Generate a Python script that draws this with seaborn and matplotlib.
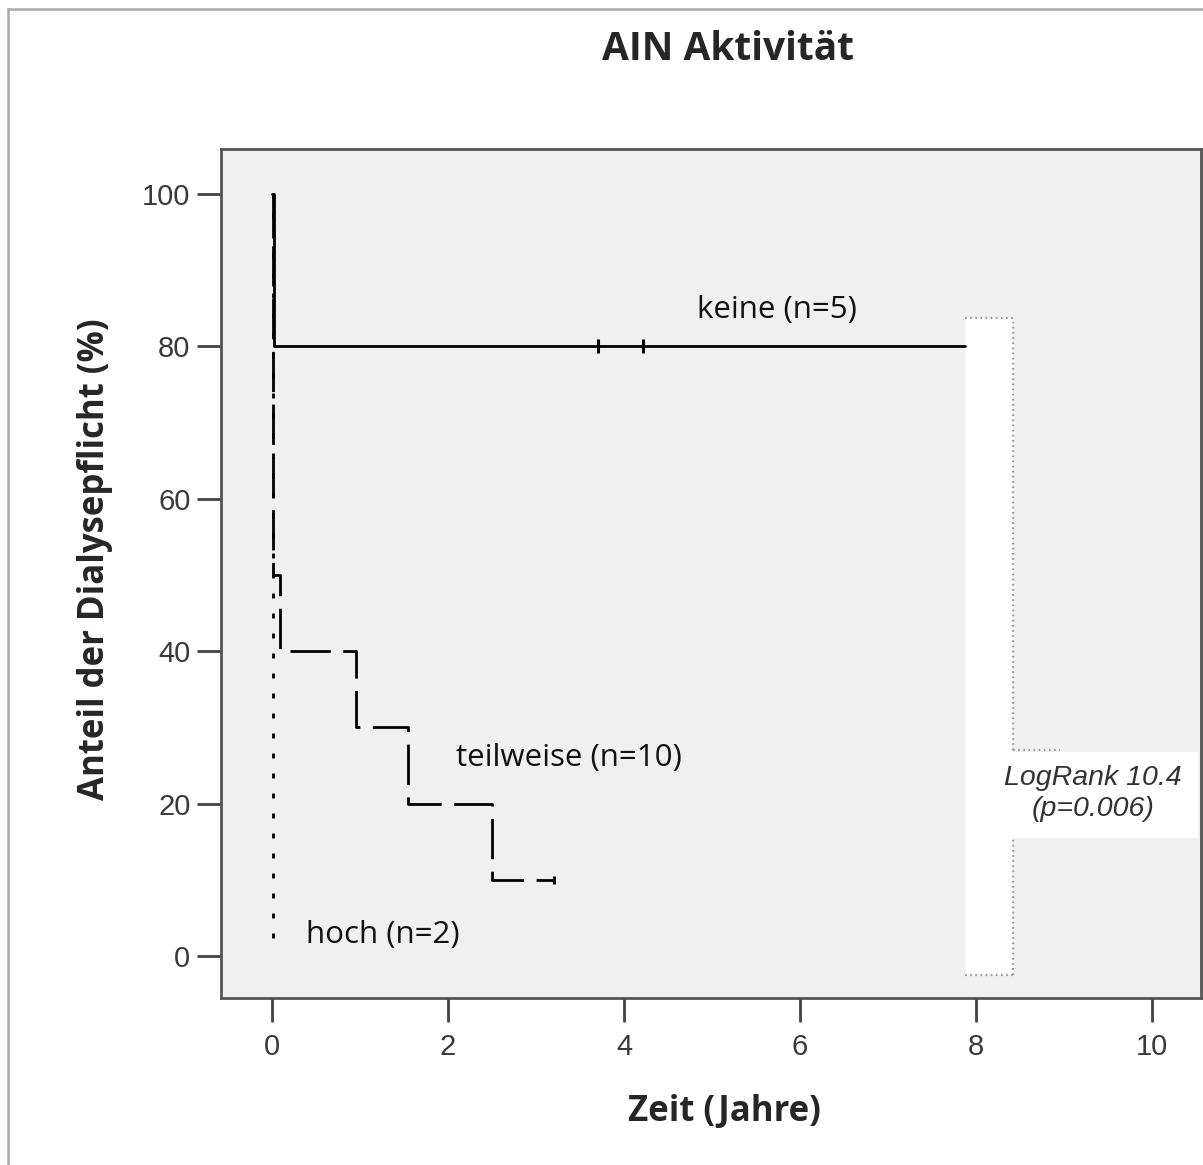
import matplotlib
matplotlib.use("Agg")
import matplotlib.pyplot as plt
from matplotlib.patches import Rectangle
from matplotlib.lines import Line2D
import seaborn as sns
import pandas as pd

# ---- data ----
groups = ["keine", "teilweise", "hoch"]
labels = ["keine (n=5)", "teilweise (n=10)", "hoch (n=2)"]
t_keine = [0.0, 0.02, 7.88]
s_keine = [100, 80, 80]
t_teil = [0.0, 0.01, 0.09, 0.95, 1.54, 2.50, 3.20]
s_teil = [100, 50, 40, 30, 20, 10, 10]
t_hoch = [0.0, 0.01]
s_hoch = [100, 2]
censor_t = [3.70, 4.22]
censor_s = [80, 80]
censor_teil_t = [3.20]
censor_teil_s = [10]
xticks = [0, 2, 4, 6, 8, 10]
yticks = [0, 20, 40, 60, 80, 100]
title = "AIN Aktivität"
xlabel = "Zeit (Jahre)"
ylabel = "Anteil der Dialysepflicht (%)"
logrank = "LogRank 10.4\n(p=0.006)"

df = pd.concat([
    pd.DataFrame({"t": t_keine, "s": s_keine, "g": "keine"}),
    pd.DataFrame({"t": t_teil, "s": s_teil, "g": "teilweise"}),
    pd.DataFrame({"t": t_hoch, "s": s_hoch, "g": "hoch"}),
], ignore_index=True)

sns.set_theme(style="white")
plt.rcParams["lines.scale_dashes"] = False
plt.rcParams["font.family"] = ["Liberation Sans", "DejaVu Sans"]

fig = plt.figure(figsize=(12.03, 11.65), dpi=100)
ax = fig.add_axes([221 / 1203, 1 - 998 / 1165, 980 / 1203, 849 / 1165])
ax.set_facecolor("#f0f0f0")

sns.lineplot(data=df, x="t", y="s", style="g", units="g", estimator=None,
             sort=False, color="black", linewidth=2.0,
             dashes={"keine": "", "teilweise": (29, 9), "hoch": (3.6, 10.8)},
             drawstyle="steps-post", legend=False, ax=ax, zorder=3)
ax.plot(censor_t, censor_s, linestyle="none", marker="|", markersize=10,
        markeredgewidth=2.2, color="black", zorder=4)
ax.plot(censor_teil_t, censor_teil_s, linestyle="none", marker="|",
        markersize=6, markeredgewidth=2, color="black", zorder=4)

ax.set_xlim(-0.58, 10.557)
ax.set_ylim(-5.51, 105.9)
ax.set_xticks(xticks)
ax.set_yticks(yticks)
ax.set_xlabel("")
ax.set_ylabel("")
ax.tick_params(axis="both", direction="out", length=17, width=2,
               color="#444444", labelsize=21, labelcolor="#3a3a3a",
               left=True, bottom=True)
ax.tick_params(axis="y", pad=5)
ax.tick_params(axis="x", pad=8)
for sp in ax.spines.values():
    sp.set_color("#555555")
    sp.set_linewidth(2)

# white overlay box with dotted border
ax.add_patch(Rectangle((7.875, -2.5), 8.42 - 7.875, 83.7 + 2.5,
                       facecolor="white", edgecolor="none", zorder=2))
dot = dict(color="#999999", linestyle=(0, (1.2, 2.5)), linewidth=1.6, zorder=2.5)
ax.plot([7.875, 8.42], [83.7, 83.7], **dot)
ax.plot([7.875, 8.42], [-2.5, -2.5], **dot)
ax.plot([8.42, 8.42], [27.0, 83.7], **dot)
ax.plot([8.42, 8.42], [-2.5, 15.5], **dot)
ax.plot([8.42, 8.95], [27.0, 27.0], **dot)
ax.add_patch(Rectangle((7.875, 15.5), 10.52 - 7.875, 26.8 - 15.5,
                       facecolor="white", edgecolor="none", zorder=2.6))
ax.text(9.33, 21.3, logrank, ha="center", va="center", fontsize=20.5,
        style="italic", color="#333333", linespacing=1.25, zorder=5)

# curve labels
lab_font = ["Open Sans", "DejaVu Sans"]
ax.text(4.83, 84.8, labels[0], ha="left", va="center", fontsize=22.5,
        family=lab_font, color="#111111", zorder=5)
ax.text(2.09, 26.0, labels[1], ha="left", va="center", fontsize=22.5,
        family=lab_font, color="#111111", zorder=5)
ax.text(0.386, 2.76, labels[2], ha="left", va="center", fontsize=22.5,
        family=lab_font, color="#111111", zorder=5)

fig.text(728 / 1203, 1 - 50 / 1165, title, ha="center", va="center",
         fontsize=28, fontweight="bold", family=lab_font)
fig.text(724 / 1203, 1 - 1112 / 1165, xlabel, ha="center", va="center",
         fontsize=25, fontweight="bold", family=lab_font)
fig.text(95 / 1203, 1 - 559 / 1165, ylabel, ha="center", va="center",
         rotation=90, fontsize=25, fontweight="bold", family=lab_font)

# outer frame (left and top edges)
fig.add_artist(Line2D([8 / 1203, 8 / 1203], [0, 1 - 9 / 1165],
                      transform=fig.transFigure, color="#aaaaaa", linewidth=1.8))
fig.add_artist(Line2D([8 / 1203, 1], [1 - 9 / 1165, 1 - 9 / 1165],
                      transform=fig.transFigure, color="#aaaaaa", linewidth=1.8))

fig.savefig("out.png", dpi=100)
